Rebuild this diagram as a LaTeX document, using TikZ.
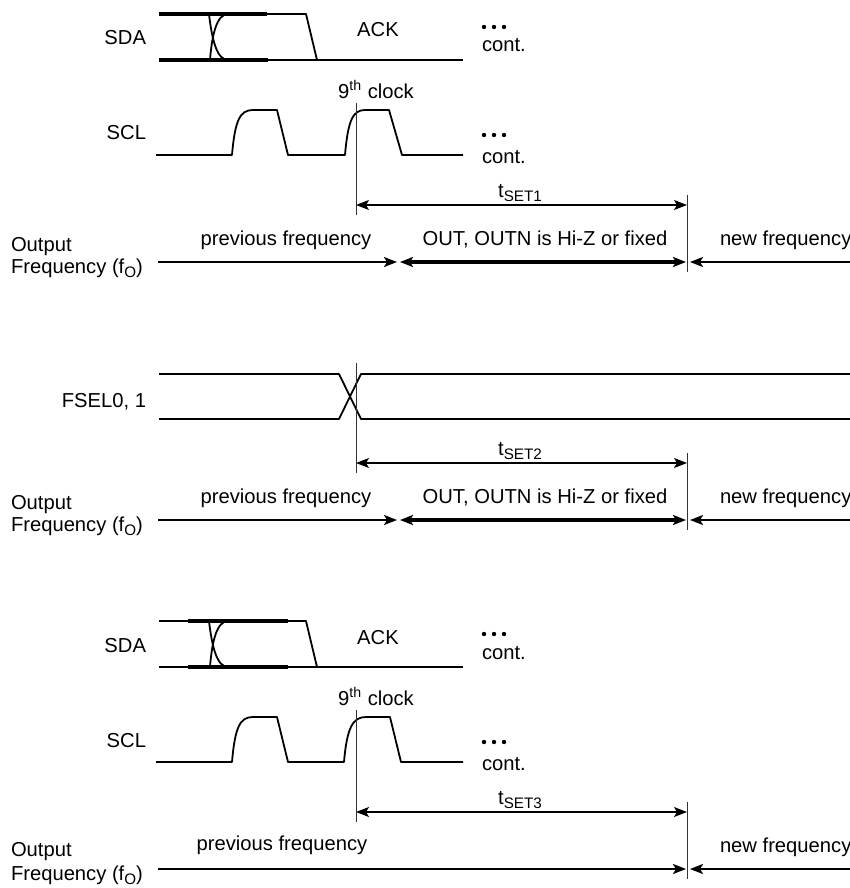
\documentclass[tikz,border=0pt]{standalone}
\usepackage{fontspec}
\setmainfont{Liberation Sans}
\usetikzlibrary{arrows.meta}
\newcommand{\mysub}[1]{\raisebox{-0.45ex}{\fontsize{7.6}{8}\selectfont #1}}
\tikzset{
  wave/.style={line width=0.9pt, line join=round},
  bus/.style={line width=1.6pt},
  guide/.style={line width=0.5pt, black!80},
  dim/.style={line width=0.55pt, {Stealth[length=6.5pt,width=5pt,inset=1.5pt]}-{Stealth[length=6.5pt,width=5pt,inset=1.5pt]}},
  freq/.style={line width=1.1pt, -{Stealth[length=6.5pt,width=5pt,inset=1.5pt]}},
  freqboth/.style={line width=1.9pt, {Stealth[length=6.5pt,width=5pt,inset=1.5pt]}-{Stealth[length=6.5pt,width=5pt,inset=1.5pt]}},
  txt/.style={font=\fontsize{10.1}{12}\selectfont, inner sep=0pt, outer sep=0pt},
  dot/.style={fill=black, draw=none}
}
\begin{document}
\begin{tikzpicture}[x=0.5pt, y=-0.5pt]
\useasboundingbox (0,0) rectangle (850,888);

% ================= Panel 1 =================
% SDA
\node[txt, anchor=base east] (sda1) at (146,45) {SDA};
\draw[bus] (159,14) -- (267,14);
\draw[bus] (159,60) -- (268,60);
\draw[wave] (209,14) .. controls (212,40) and (217,60) .. (228,60);
\draw[wave] (228,14) .. controls (217,14) and (212,34) .. (210,60);
\draw[wave] (267,14) -- (306,14) -- (317,60);
\draw[wave] (268,60) -- (463,60);
\node[txt, anchor=base] (ack1) at (378,37) {ACK};
\fill[dot] (484,27) circle[radius=1.1pt] (494,27) circle[radius=1.1pt] (504,27) circle[radius=1.1pt];
\node[txt, anchor=base west] (cont1) at (482,52) {cont.};
% SCL
\node[txt, anchor=base east] (scl1) at (146,140) {SCL};
\draw[wave] (156,155) -- (232,155) .. controls (235,120) and (240,110) .. (253,110)
  -- (277,110) -- (288,155) -- (345,155) .. controls (348,120) and (353,110) .. (365,110)
  -- (389,110) -- (402,155) -- (463,155);
\fill[dot] (484,135) circle[radius=1.1pt] (494,135) circle[radius=1.1pt] (504,135) circle[radius=1.1pt];
\node[txt, anchor=base west] (cont2) at (482,163) {cont.};
\node[txt, anchor=base] (clk1) at (376,98) {9\textsuperscript{th} clock};
% guides
\coordinate (g1a) at (356,103); \coordinate (g1b) at (356,215);
\draw[guide] (g1a) -- (g1b);
\coordinate (g2a) at (687,195); \coordinate (g2b) at (687,272);
\draw[guide] (g2a) -- (g2b);
\coordinate (d1a) at (356,205); \coordinate (d1b) at (687,205);
\draw[dim] (d1a) -- (d1b);
\node[txt, anchor=base] (tset1) at (520,197) {t\mysub{SET1}};
% output
\node[txt, anchor=base west] (out1) at (11,251) {Output};
\node[txt, anchor=base west] (fr1) at (11,273) {Frequency (f\mysub{O})};
\coordinate (o1a) at (158,262); \coordinate (o1b) at (397,262);
\coordinate (o1c) at (400,262); \coordinate (o1d) at (686,262);
\coordinate (o1e) at (850,262); \coordinate (o1f) at (690,262);
\draw[freq] (o1a) -- (o1b);
\draw[freqboth] (o1c) -- (o1d);
\draw[freq] (o1e) -- (o1f);
\node[txt, anchor=base] (pf1) at (286,245) {previous frequency};
\node[txt, anchor=base] (hz1) at (545,245) {OUT, OUTN is Hi-Z or fixed};
\node[txt, anchor=base west] (nf1) at (720,245) {new frequency};

% ================= Panel 2 =================
\node[txt, anchor=base east] (fsel) at (146,407) {FSEL0, 1};
\draw[wave] (159,374) -- (339,374) -- (361,419) -- (850,419);
\draw[wave] (159,419) -- (339,419) -- (361,374) -- (850,374);
\coordinate (g3a) at (356,363); \coordinate (g3b) at (356,473);
\draw[guide] (g3a) -- (g3b);
\coordinate (g4a) at (687,453); \coordinate (g4b) at (687,530);
\draw[guide] (g4a) -- (g4b);
\coordinate (d2a) at (356,463); \coordinate (d2b) at (687,463);
\draw[dim] (d2a) -- (d2b);
\node[txt, anchor=base] (tset2) at (520,455) {t\mysub{SET2}};
\node[txt, anchor=base west] (out2) at (11,509) {Output};
\node[txt, anchor=base west] (fr2) at (11,531) {Frequency (f\mysub{O})};
\coordinate (o2a) at (158,520); \coordinate (o2b) at (397,520);
\coordinate (o2c) at (400,520); \coordinate (o2d) at (686,520);
\coordinate (o2e) at (850,520); \coordinate (o2f) at (690,520);
\draw[freq] (o2a) -- (o2b);
\draw[freqboth] (o2c) -- (o2d);
\draw[freq] (o2e) -- (o2f);
\node[txt, anchor=base] (pf2) at (286,503) {previous frequency};
\node[txt, anchor=base] (hz2) at (545,503) {OUT, OUTN is Hi-Z or fixed};
\node[txt, anchor=base west] (nf2) at (720,503) {new frequency};

% ================= Panel 3 =================
\begin{scope}[shift={(0,607)}]
\node[txt, anchor=base east] (sda3) at (146,45) {SDA};
\draw[wave] (159,14) -- (188,14);
\draw[wave] (159,60) -- (188,60);
\draw[bus] (188,14) -- (288,14);
\draw[bus] (188,60) -- (288,60);
\draw[wave] (209,14) .. controls (212,40) and (217,60) .. (228,60);
\draw[wave] (228,14) .. controls (217,14) and (212,34) .. (210,60);
\draw[wave] (288,14) -- (306,14) -- (317,60);
\draw[wave] (288,60) -- (463,60);
\node[txt, anchor=base] (ack3) at (378,37) {ACK};
\fill[dot] (484,27) circle[radius=1.1pt] (494,27) circle[radius=1.1pt] (504,27) circle[radius=1.1pt];
\node[txt, anchor=base west] (cont3) at (482,52) {cont.};
\node[txt, anchor=base east] (scl3) at (146,140) {SCL};
\draw[wave] (156,155) -- (232,155) .. controls (235,120) and (240,110) .. (253,110)
  -- (277,110) -- (288,155) -- (344,155) .. controls (347,120) and (353,110) .. (366,110)
  -- (390,110) -- (401,155) -- (463,155);
\fill[dot] (484,135) circle[radius=1.1pt] (494,135) circle[radius=1.1pt] (504,135) circle[radius=1.1pt];
\node[txt, anchor=base west] (cont4) at (482,163) {cont.};
\node[txt, anchor=base] (clk3) at (376,98) {9\textsuperscript{th} clock};
\coordinate (g5a) at (356,103); \coordinate (g5b) at (356,215);
\draw[guide] (g5a) -- (g5b);
\coordinate (g6a) at (687,195); \coordinate (g6b) at (687,272);
\draw[guide] (g6a) -- (g6b);
\coordinate (d3a) at (356,205); \coordinate (d3b) at (687,205);
\draw[dim] (d3a) -- (d3b);
\node[txt, anchor=base] (tset3) at (520,197) {t\mysub{SET3}};
\node[txt, anchor=base west] (out3) at (11,249) {Output};
\node[txt, anchor=base west] (fr3) at (11,273) {Frequency (f\mysub{O})};
\coordinate (o3a) at (158,262); \coordinate (o3b) at (686,262);
\coordinate (o3e) at (850,262); \coordinate (o3f) at (690,262);
\draw[freq] (o3a) -- (o3b);
\draw[freq] (o3e) -- (o3f);
\node[txt, anchor=base] (pf3) at (282,243) {previous frequency};
\node[txt, anchor=base west] (nf3) at (720,245) {new frequency};
\end{scope}
\end{tikzpicture}
\end{document}
